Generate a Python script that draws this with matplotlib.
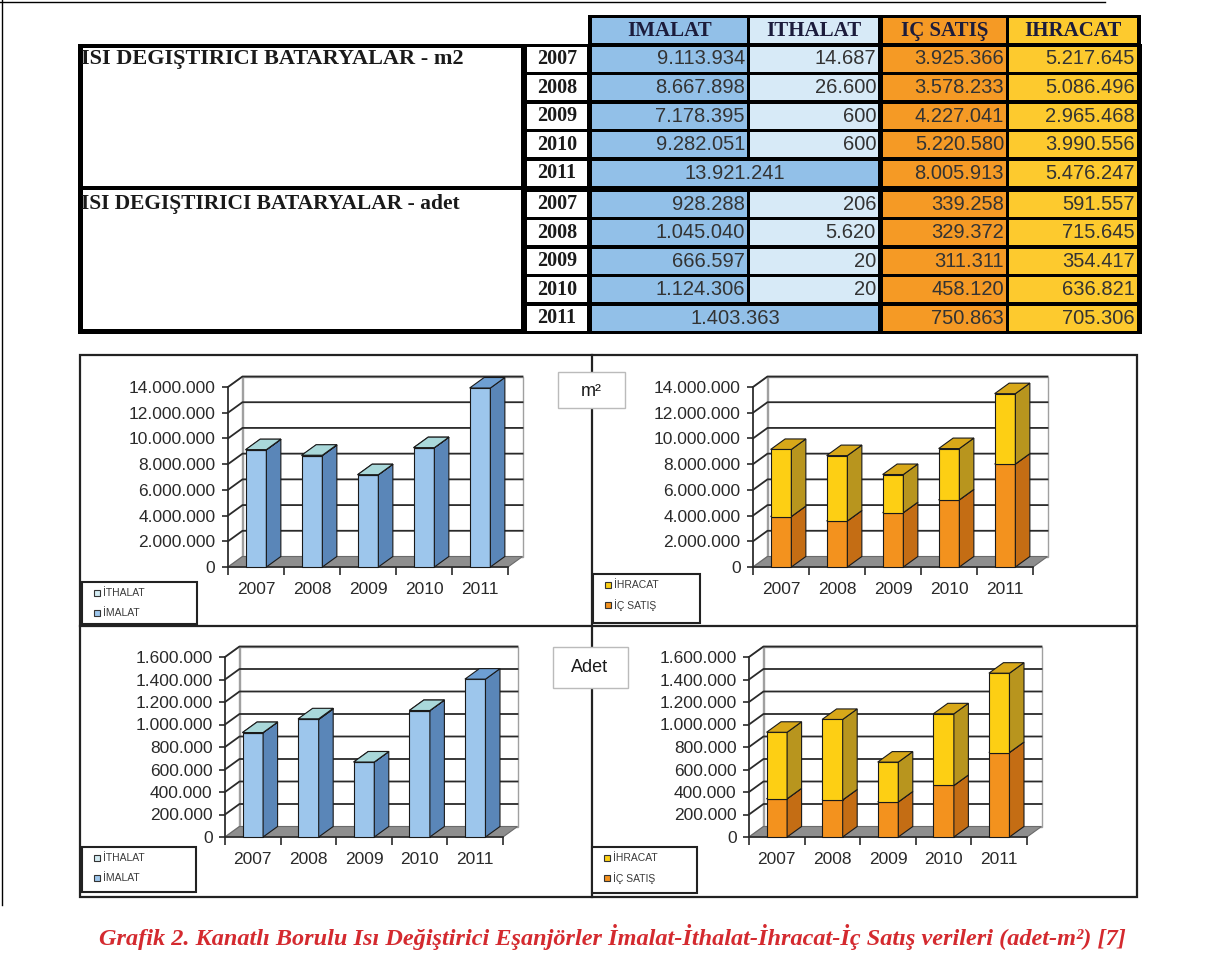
import matplotlib
matplotlib.use("Agg")
import matplotlib.pyplot as plt
from matplotlib.patches import Rectangle, Polygon

years = ["2007", "2008", "2009", "2010", "2011"]
headers = ["IMALAT", "ITHALAT", "IÇ SATIŞ", "IHRACAT"]

imalat_m2 = [9113934, 8667898, 7178395, 9282051, 13921241]
ithalat_m2 = [14687, 26600, 600, 600, 0]
ic_satis_m2 = [3925366, 3578233, 4227041, 5220580, 8005913]
ihracat_m2 = [5217645, 5086496, 2965468, 3990556, 5476247]

imalat_adet = [928288, 1045040, 666597, 1124306, 1403363]
ithalat_adet = [206, 5620, 20, 20, 0]
ic_satis_adet = [339258, 329372, 311311, 458120, 750863]
ihracat_adet = [591557, 715645, 354417, 636821, 705306]

m2_ticks = list(range(0, 14000001, 2000000))
adet_ticks = list(range(0, 1600001, 200000))

W, H = 1209, 959
DX, DY = 14.5, 10.5  # depth of the fake 3d, pixels

plt.rcParams['font.family'] = ['Liberation Sans', 'DejaVu Sans']

fig = plt.figure(figsize=(W / 100, H / 100), dpi=100)
bg = fig.add_axes([0, 0, 1, 1])
bg.set_xlim(0, W)
bg.set_ylim(H, 0)
bg.axis('off')


def fmt(v):
    return f"{v:,}".replace(",", ".")


def box(x0, y0, x1, y1, fc, ec='none', lw=0, z=1):
    bg.add_patch(Rectangle((x0, y0), x1 - x0, y1 - y0, facecolor=fc,
                           edgecolor=ec, linewidth=lw, zorder=z))


# page border
bg.plot([0, 1105], [2, 2], color='black', lw=1)
bg.plot([2, 2], [0, 905], color='black', lw=1)

# ---------------- table ----------------
col_x = [(592, 747), (750, 878), (883, 1006), (1009, 1137)]
col_colors = ['#92c0e8', '#d7eaf7', '#f59a25', '#fdca2e']

box(588, 15, 1141, 46, 'black')
for (x0, x1), c, h in zip(col_x, col_colors, headers):
    box(x0, 18, x1, 43, c, z=2)
    bg.text((x0 + x1) / 2, 31, h, fontsize=15, fontweight='bold',
            family='Liberation Serif', color='#1c1c3c', ha='center', va='center', zorder=3)

box(78, 44, 1142, 334, 'black')
box(83, 48, 521, 186, 'white', z=2)
box(83, 190, 521, 329, 'white', z=2)
bg.text(81, 59, "ISI DEGIŞTIRICI BATARYALAR - m2", fontsize=16, fontweight='bold',
        family='Liberation Serif', color='#1a1a1a', ha='left', va='center', zorder=3)
bg.text(81, 204, "ISI DEGIŞTIRICI BATARYALAR - adet", fontsize=15.5, fontweight='bold',
        family='Liberation Serif', color='#1a1a1a', ha='left', va='center', zorder=3)

table_rows = []
for i in range(5):
    table_rows.append([imalat_m2[i], ithalat_m2[i], ic_satis_m2[i], ihracat_m2[i]])
for i in range(5):
    table_rows.append([imalat_adet[i], ithalat_adet[i], ic_satis_adet[i], ihracat_adet[i]])

for k, vals in enumerate(table_rows):
    cy = 59 + k * 28.6 + (2 if k >= 5 else 0)
    y0, y1 = cy - 12.5, cy + 12.5
    box(527, y0, 587, y1, 'white', z=2)
    bg.text(557, cy, years[k % 5], fontsize=14.5, fontweight='bold', family='Liberation Serif',
            color='#1a1a1a', ha='center', va='center', zorder=3)
    if vals[1] == 0:
        # merged imalat / ithalat cell
        box(col_x[0][0], y0, col_x[1][1], y1, col_colors[0], z=2)
        bg.text((col_x[0][0] + col_x[1][1]) / 2, cy, fmt(vals[0]), fontsize=14.5,
                color='#333333', ha='center', va='center', zorder=3)
        rest = [2, 3]
    else:
        rest = [0, 1, 2, 3]
    for j in rest:
        x0, x1 = col_x[j]
        box(x0, y0, x1, y1, col_colors[j], z=2)
        bg.text(x1 - 2, cy, fmt(vals[j]), fontsize=14.5, color='#333333',
                ha='right', va='center', zorder=3)

# ---------------- chart frame ----------------
box(80, 355, 1137, 897, 'none', ec='#222222', lw=1.6, z=2)
bg.plot([592, 592], [355, 897], color='#222222', lw=1.6, zorder=2)
bg.plot([80, 1137], [626, 626], color='#222222', lw=1.6, zorder=2)
box(558, 372, 625, 408, 'white', ec='#bbbbbb', lw=1, z=3)
bg.text(591, 391, "m²", fontsize=13, color='#1a1a1a', ha='center', va='center', zorder=4)
box(553, 647, 628, 688, 'white', ec='#bbbbbb', lw=1, z=3)
bg.text(590, 668, "Adet", fontsize=13, color='#1a1a1a', ha='center', va='center', zorder=4)

blue = ('#9dc6ec', '#5a86b8', '#6e9fd3')
light = ('#d4ecf2', '#8fb8c0', '#a9d8da')
orange = ('#f3921e', '#c46d14', '#d98318')
yellow = ('#fdcf14', '#b8951e', '#d8a819')


def chart3d(x0, y0, cat, ytop, ymax, ticks, series):
    ax = fig.add_axes([x0 / W, 1 - y0 / H, 5 * cat / W, (y0 - ytop) / H])
    ax.set_xlim(0, 5)
    ax.set_ylim(0, ymax)
    ax.patch.set_visible(False)
    dxu = DX / cat
    dyu = DY * ymax / (y0 - ytop)

    ax.add_patch(Rectangle((dxu, dyu), 5, ymax, facecolor='white', edgecolor='#a0a0a0',
                           lw=1, clip_on=False, zorder=0.5))
    ax.add_patch(Polygon([(0, 0), (dxu, dyu), (dxu, ymax + dyu), (0, ymax)], closed=True,
                         facecolor='white', edgecolor='#a0a0a0', lw=1, clip_on=False, zorder=0.5))
    for t in ticks[1:]:
        ax.plot([0, dxu, 5 + dxu], [t, t + dyu, t + dyu], color='#2a2a2a', lw=1.3,
                clip_on=False, zorder=1)
    ax.add_patch(Polygon([(0, 0), (5, 0), (5 + dxu, dyu), (dxu, dyu)], closed=True,
                         facecolor='#8e8e8e', edgecolor='#6a6a6a', lw=0.8, clip_on=False, zorder=1.5))

    bw = 0.37
    z = 3
    for i in range(5):
        base = 0
        l = i + 0.5 - bw / 2
        r = l + bw
        for vals, (cf, cs, ct) in series:
            v = vals[i]
            if v <= 0:
                continue
            kw = dict(edgecolor='#1a1a1a', lw=0.8, clip_on=False)
            ax.add_patch(Rectangle((l, base), bw, v, facecolor=cf, zorder=z, **kw))
            ax.add_patch(Polygon([(r, base), (r + dxu, base + dyu), (r + dxu, base + v + dyu),
                                  (r, base + v)], closed=True, facecolor=cs, zorder=z, **kw))
            ax.add_patch(Polygon([(l, base + v), (r, base + v), (r + dxu, base + v + dyu),
                                  (l + dxu, base + v + dyu)], closed=True, facecolor=ct,
                                 zorder=z, **kw))
            z += 0.1
            base += v

    for s in ['top', 'right']:
        ax.spines[s].set_visible(False)
    ax.spines['left'].set_bounds(0, ymax)
    ax.spines['bottom'].set_bounds(0, 5)
    for s in ['left', 'bottom']:
        ax.spines[s].set_color('#2a2a2a')
        ax.spines[s].set_linewidth(1.2)
        ax.spines[s].set_zorder(2)
    ax.set_yticks(ticks)
    ax.set_yticklabels([fmt(t) for t in ticks])
    ax.tick_params(axis='y', direction='out', length=4, width=1.2, pad=5,
                   labelsize=12.5, labelcolor='#2a2a2a', color='#2a2a2a')
    ax.set_xticks(range(6))
    ax.set_xticklabels([])
    ax.set_xticks([i + 0.5 for i in range(5)], minor=True)
    ax.set_xticklabels(years, minor=True)
    ax.tick_params(axis='x', which='major', direction='out', length=6, width=1.2, color='#2a2a2a')
    ax.tick_params(axis='x', which='minor', length=0, pad=11, labelsize=12.5, labelcolor='#2a2a2a')
    return ax


chart3d(228, 567, 56, 387, 14000000, m2_ticks,
        [(imalat_m2, blue), (ithalat_m2, light)])
chart3d(753, 567, 56, 387, 14000000, m2_ticks,
        [(ic_satis_m2, orange), (ihracat_m2, yellow)])
chart3d(225, 837, 55.6, 657, 1600000, adet_ticks,
        [(imalat_adet, blue), (ithalat_adet, light)])
chart3d(749, 837, 55.6, 657, 1600000, adet_ticks,
        [(ic_satis_adet, orange), (ihracat_adet, yellow)])


def legend_box(x0, y0, x1, y1, items):
    box(x0, y0, x1, y1, 'white', ec='#222222', lw=1.5, z=3)
    for j, (lab, col) in enumerate(items):
        yy = y0 + 11 + j * 20
        box(x0 + 12, yy - 3, x0 + 18, yy + 3, col, ec='#333333', lw=0.8, z=4)
        bg.text(x0 + 21, yy, lab, fontsize=7.5, color='#3a3a3a', ha='left', va='center', zorder=4)


legend_box(82, 582, 197, 624, [("İTHALAT", light[0]), ("İMALAT", blue[0])])
legend_box(593, 574, 700, 623, [("İHRACAT", yellow[0]), ("İÇ SATIŞ", orange[0])])
legend_box(82, 847, 196, 892, [("İTHALAT", light[0]), ("İMALAT", blue[0])])
legend_box(592, 847, 697, 893, [("İHRACAT", yellow[0]), ("İÇ SATIŞ", orange[0])])

bg.text(612, 937, "Grafik 2. Kanatlı Borulu Isı Değiştirici Eşanjörler İmalat-İthalat-İhracat-İç Satış verileri (adet-m²) [7]",
        fontsize=17.5, fontweight='bold', style='italic', family='Liberation Serif',
        color='#d42a2f', ha='center', va='center')

fig.savefig("out.png", dpi=100)
